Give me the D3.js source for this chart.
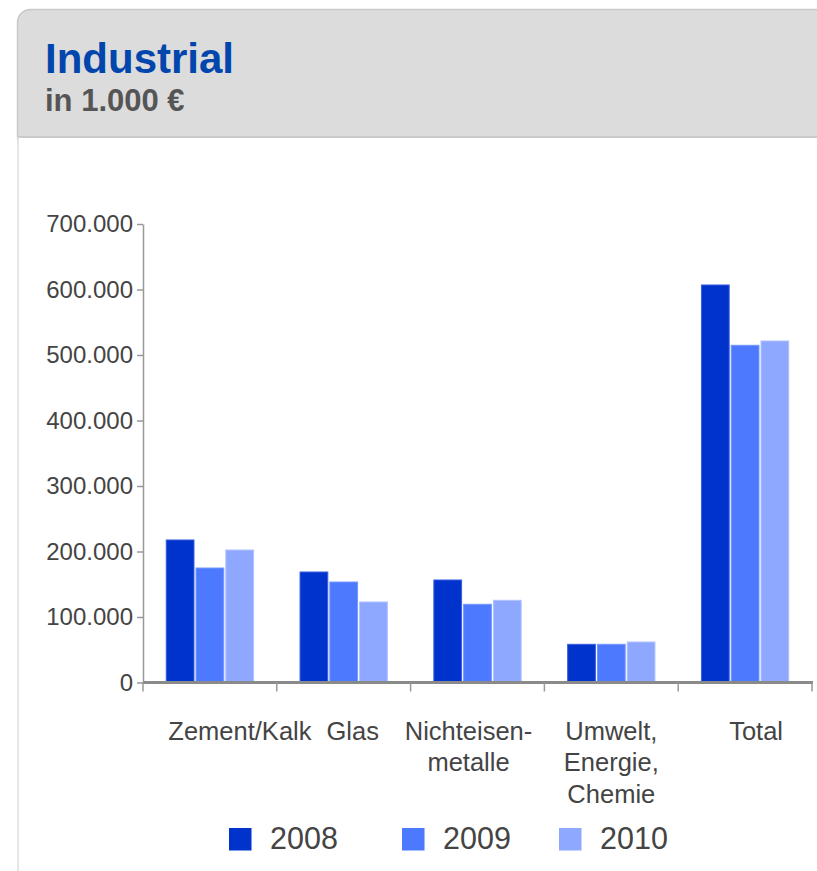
<!DOCTYPE html>
<html>
<head>
<meta charset="utf-8">
<script src="https://cdn.jsdelivr.net/npm/d3@7.9.0/dist/d3.min.js"></script>
<style>
  body { margin: 0; background: #fff; }
  svg { display: block; font-family: "Liberation Sans", Arial, sans-serif; }
</style>
</head>
<body>
<div id="chart"></div>
<script>
// Data (in 1.000 €)
const categories = ["Zement/Kalk", "Glas", "Nichteisen-\nmetalle", "Umwelt,\nEnergie,\nChemie", "Total"];
const years = ["2008", "2009", "2010"];
const values2008 = [217600, 168700, 156500, 58300, 606900];
const values2009 = [174800, 153400, 119400, 58300, 514800];
const values2010 = [202300, 122900, 125500, 61800, 521400];
const yTicks = [0, 100000, 200000, 300000, 400000, 500000, 600000, 700000];

const seriesValues = [values2008, values2009, values2010];
const colors = ["#0033cc", "#4d79ff", "#8ea8ff"];
const strokes = ["#3a5ee0", "#7396ff", "#b0c2ff"];

// layout
const W = 817, H = 871;
const plot = { left: 143, right: 812, top: 224, bottom: 682.5 };
const labelDx = [30, 9, -9, 0, 11];       // label shift under each group, as in reference
const legendX = [229, 402, 559];

// German number format: 700.000
const de = d3.formatLocale({ decimal: ",", thousands: ".", grouping: [3], currency: ["", " €"] });
const fmt = de.format(",");

const svg = d3.select("#chart").append("svg")
  .attr("width", W)
  .attr("height", H);

// header panel
svg.append("rect")
  .attr("x", 17.5).attr("y", 9.5)
  .attr("width", 900).attr("height", 140)
  .attr("rx", 13)
  .attr("fill", "#dcdcdc")
  .attr("stroke", "#c9c9c9")
  .attr("stroke-width", 1.5);

svg.append("rect")
  .attr("x", 18.25).attr("y", 137)
  .attr("width", W).attr("height", H)
  .attr("fill", "#fff");

svg.append("line")
  .attr("x1", 17.5).attr("x2", W)
  .attr("y1", 137).attr("y2", 137)
  .attr("stroke", "#c9c9c9").attr("stroke-width", 2);

svg.append("line")
  .attr("x1", 18).attr("x2", 18)
  .attr("y1", 137).attr("y2", H)
  .attr("stroke", "#dedede").attr("stroke-width", 1.5);

svg.append("text")
  .attr("x", 45).attr("y", 73)
  .attr("font-size", 42).attr("font-weight", "bold")
  .attr("fill", "#0046ad")
  .text("Industrial");

svg.append("text")
  .attr("x", 45).attr("y", 111)
  .attr("font-size", 31).attr("font-weight", "bold")
  .attr("fill", "#555")
  .text("in 1.000 €");

// scales
const x0 = d3.scaleBand()
  .domain(categories)
  .range([plot.left, plot.right])
  .paddingInner(0.34)
  .paddingOuter(0.17);

const x1 = d3.scaleBand()
  .domain(years)
  .range([0, x0.bandwidth()])
  .paddingInner(0.035);

const y = d3.scaleLinear()
  .domain([0, 700000])
  .range([plot.bottom, plot.top]);

// y axis
const yAxis = svg.append("g")
  .attr("transform", `translate(${plot.left},0)`)
  .call(d3.axisLeft(y).tickValues(yTicks).tickFormat(fmt).tickSize(6).tickSizeOuter(0).tickPadding(4));
yAxis.select(".domain").attr("stroke", "#999").attr("stroke-width", 1.5);
yAxis.selectAll(".tick line").attr("stroke", "#999").attr("stroke-width", 1.5);
yAxis.selectAll(".tick text")
  .attr("font-size", 24)
  .attr("font-family", "'Liberation Sans', Arial, sans-serif")
  .attr("fill", "#444");

// bars
const groups = svg.append("g")
  .selectAll("g")
  .data(categories)
  .join("g")
  .attr("transform", d => `translate(${x0(d)},0)`);

groups.selectAll("rect")
  .data((d, i) => years.map((yr, s) => ({ year: yr, s, value: seriesValues[s][i] })))
  .join("rect")
  .attr("x", d => x1(d.year) + 0.5)
  .attr("width", x1.bandwidth() - 1)
  .attr("y", d => y(d.value))
  .attr("height", d => y(0) - y(d.value))
  .attr("fill", d => colors[d.s])
  .attr("stroke", d => strokes[d.s])
  .attr("stroke-width", 1);

// x axis: baseline with ticks at group boundaries
const step = x0.step();
const boundaries = d3.range(categories.length + 1).map(i => plot.left + i * step);
svg.append("line")
  .attr("x1", plot.left).attr("x2", plot.right + 1)
  .attr("y1", y(0)).attr("y2", y(0))
  .attr("stroke", "#8a8a8a").attr("stroke-width", 3);
svg.append("g")
  .selectAll("line")
  .data(boundaries)
  .join("line")
  .attr("x1", d => d).attr("x2", d => d)
  .attr("y1", y(0)).attr("y2", y(0) + 9)
  .attr("stroke", "#999").attr("stroke-width", 1.5);

// category labels
svg.append("g")
  .selectAll("text")
  .data(categories)
  .join("text")
  .attr("text-anchor", "middle")
  .attr("font-size", 25.5)
  .attr("fill", "#444")
  .attr("transform", (d, i) => `translate(${x0(d) + x0.bandwidth() / 2 + labelDx[i]},739.5)`)
  .selectAll("tspan")
  .data(d => d.split("\n"))
  .join("tspan")
  .attr("x", 0)
  .attr("y", (d, i) => i * 31.5)
  .text(d => d);

// legend
const legend = svg.append("g")
  .selectAll("g")
  .data(years)
  .join("g")
  .attr("transform", (d, i) => `translate(${legendX[i]},828)`);
legend.append("rect")
  .attr("width", 22.5).attr("height", 22.5)
  .attr("fill", (d, i) => colors[i]);
legend.append("text")
  .attr("x", 41).attr("y", 21)
  .attr("font-size", 30.5)
  .attr("fill", "#444")
  .text(d => d);
</script>
</body>
</html>
